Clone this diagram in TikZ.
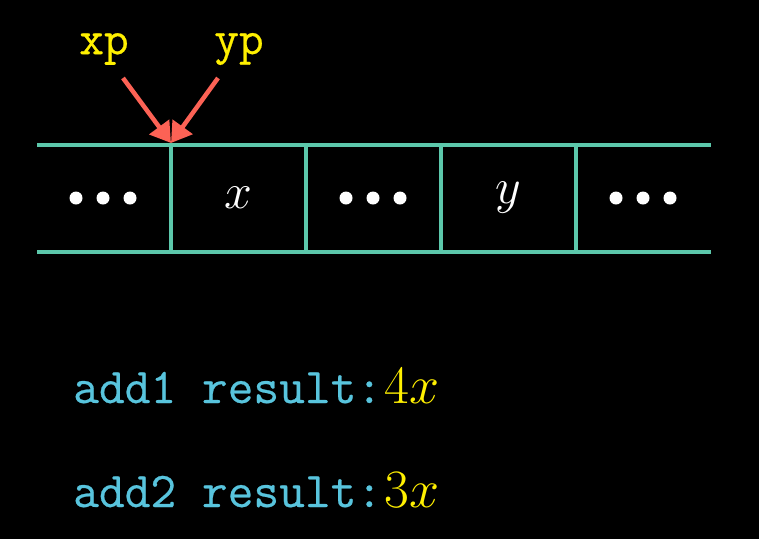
\RequirePackage{fix-cm}
\documentclass[tikz,border=0pt]{standalone}
\usepackage{fontspec}
\newfontfamily\ttheavy{Latin Modern Mono}[FakeBold=0.5]
\usetikzlibrary{arrows.meta}
\definecolor{cellc}{HTML}{5CC8AB}
\definecolor{lblc}{HTML}{FFF000}
\definecolor{arrc}{HTML}{FC6255}
\definecolor{txtc}{HTML}{58C4DD}
\tikzset{
  cellline/.style={draw=cellc, line width=3.5pt},
  lbl/.style={text=lblc, font=\fontsize{48}{50}\selectfont\ttheavy, inner sep=0pt},
  ptr/.style={draw=arrc, line width=4.5pt, -{Triangle[length=20pt,width=24pt]}},
  blob/.style={circle, fill=white, minimum size=13pt, inner sep=0pt},
  val/.style={text=white, font=\fontsize{50}{52}\selectfont, inner sep=0pt},
  res/.style={text=txtc, font=\fontsize{50}{52}\selectfont\ttheavy, inner sep=0pt, anchor=base west},
  resval/.style={text=lblc, font=\fontsize{54}{56}\selectfont, inner sep=0pt, anchor=base west},
}
\begin{document}
\begin{tikzpicture}[x=1pt,y=-1pt]
\fill[black] (0,0) rectangle (759,539);
\useasboundingbox (0,0) rectangle (759,539);
% array
\draw[cellline] (37,145) -- (711,145);
\draw[cellline] (37,252) -- (711,252);
\foreach \xx in {171,306,441,576} {
  \draw[cellline] (\xx,145) -- (\xx,252);
}
% contents
\foreach \cx/\nm in {103/a,373/b,643/c} {
  \node[blob] (\nm1) at (\cx-27,198) {};
  \node[blob] (\nm2) at (\cx,198) {};
  \node[blob] (\nm3) at (\cx+27,198) {};
}
\node[val] (vx) at (238,198) {$x$};
\node[val] (vy) at (508,198) {$y$};
% pointers
\node[lbl] (xp) at (104,49) {xp};
\node[lbl] (yp) at (239,49) {yp};
\coordinate (xps) at (123,78);
\coordinate (yps) at (218,78);
\coordinate (tip) at (171,143);
\draw[ptr] (xps) -- (tip);
\draw[ptr] (yps) -- (tip);
% results
\node[res] (r1) at (73,403) {add1 result:};
\node[resval] (v1) at ([xshift=2pt]r1.base east) {$4x$};
\node[res] (r2) at (73,507) {add2 result:};
\node[resval] (v2) at ([xshift=2pt]r2.base east) {$3x$};
\end{tikzpicture}
\end{document}
